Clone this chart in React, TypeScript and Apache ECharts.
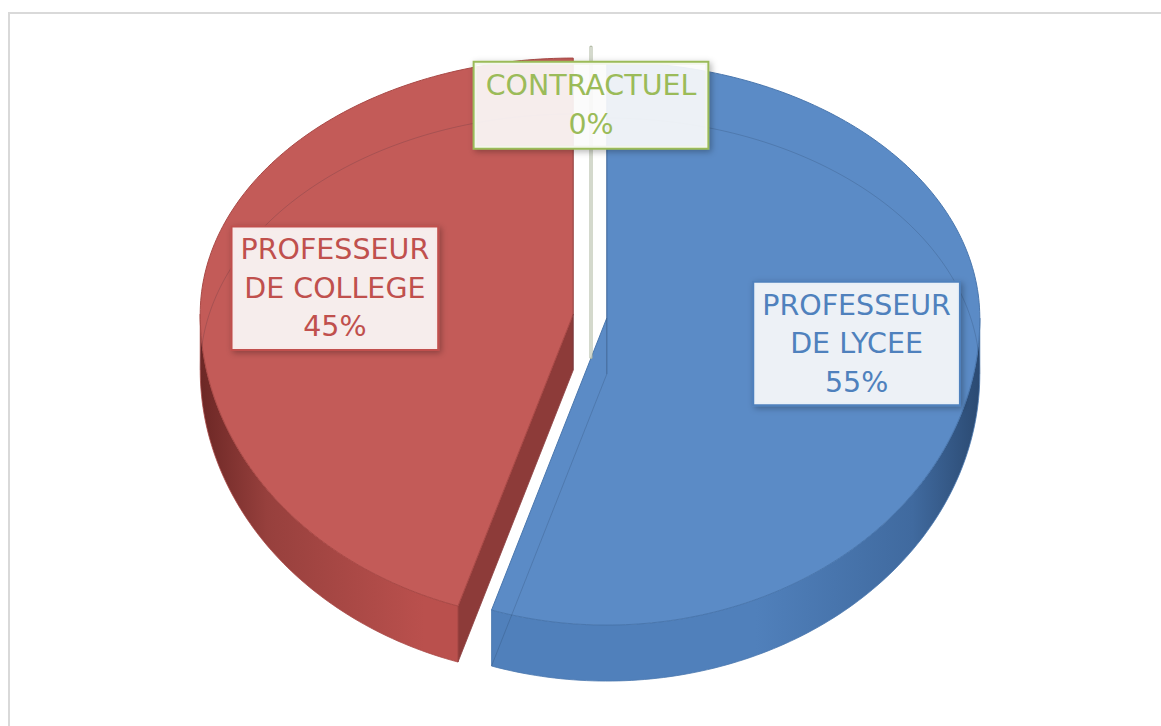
import React, { useEffect, useRef } from "react";
import * as echarts from "echarts";

// ---- data ----
const categories = ["PROFESSEUR DE LYCEE", "PROFESSEUR DE COLLEGE", "CONTRACTUEL"];
const values = [55, 45, 0];

// ---- styles ----
const topFill = ["#5B8BC6", "#C35B58", "#9BBB59"];
const edgeStroke = ["#4A77AE", "#A94946", "#A9B39A"];
const sideDark = ["#2B4A72", "#6C2725", "#6F8A3A"];
const sideMid = ["#406A9F", "#97403D", "#84A24A"];
const sideBase = ["#5080BB", "#BA504D", "#9BBB59"];
const cutFill = ["#3F6698", "#8D3B39", "#7E9A47"];
const labelColor = ["#4F81BD", "#C0504D", "#9BBB59"];
const explode = [16, 18, 20];
const labelRadius = [0.678, 0.647, 0.77];
const labelShift = [
  [0, -7],
  [0, 0],
  [0, 0],
];
const labelPadding = [
  [3, 8],
  [3, 8],
  [4, 11],
];

// ---- geometry of the 3D pie ----
const CX = 591;
const CY = 316;
const RX = 373;
const RY_UP = 256;
const RY_DOWN = 307;
const DEPTH = 56;

const total = values.reduce((a, b) => a + b, 0);
const starts: number[] = [];
{
  let acc = 0;
  values.forEach((v) => {
    starts.push((acc / total) * 360);
    acc += v;
  });
}

function pt(cx: number, cy: number, deg: number, k = 1): number[] {
  const r = (deg * Math.PI) / 180;
  const s = Math.sin(r);
  const c = Math.cos(r);
  return [cx + RX * k * s, cy - (c >= 0 ? RY_UP : RY_DOWN) * k * c];
}

function arc(cx: number, cy: number, a: number, b: number, dy = 0): number[][] {
  const pts: number[][] = [];
  const n = Math.max(1, Math.ceil(b - a));
  for (let i = 0; i <= n; i++) {
    const p = pt(cx, cy, a + ((b - a) * i) / n);
    pts.push([p[0], p[1] + dy]);
  }
  return pts;
}

function wrap(name: string, max = 11): string {
  const words = name.split(" ");
  const lines: string[] = [];
  let cur = "";
  words.forEach((w) => {
    if (!cur) cur = w;
    else if ((cur + " " + w).length <= max) cur += " " + w;
    else {
      lines.push(cur);
      cur = w;
    }
  });
  if (cur) lines.push(cur);
  return lines.join("\n");
}

function renderItem(params: any) {
  const i = params.dataIndex;
  const v = values[i];
  const a = starts[i];
  const b = a + (v / total) * 360;
  const mid = (a + b) / 2;
  const m = (mid * Math.PI) / 180;
  const e = explode[i];
  const cm = Math.cos(m);
  const cx = CX + e * Math.sin(m);
  const cy = CY - (e * cm * (cm >= 0 ? RY_UP : RY_DOWN)) / RX;
  const apex = [cx, cy];
  const down = (p: number[]) => [p[0], p[1] + DEPTH];
  const P1 = pt(cx, cy, a);
  const P2 = pt(cx, cy, b);
  const children: any[] = [];

  if (b - a < 0.05) {
    children.push({
      type: "polygon",
      shape: {
        points: [
          [cx - 1, cy + DEPTH],
          [P1[0] - 1, P1[1]],
          [P1[0] + 1, P1[1]],
          [cx + 1, cy + DEPTH],
        ],
      },
      style: { fill: "rgba(255,255,255,0.7)", stroke: edgeStroke[i], lineWidth: 1 },
    });
  } else {
    // outer front side
    const fa = Math.max(a, 90);
    const fb = Math.min(b, 270);
    if (fb > fa) {
      const top = arc(cx, cy, fa, fb);
      const bot = arc(cx, cy, fa, fb, DEPTH).reverse();
      const grad = new echarts.graphic.LinearGradient(
        cx - RX,
        0,
        cx + RX,
        0,
        [
          { offset: 0, color: sideDark[i] },
          { offset: 0.09, color: sideMid[i] },
          { offset: 0.3, color: sideBase[i] },
          { offset: 0.7, color: sideBase[i] },
          { offset: 0.91, color: sideMid[i] },
          { offset: 1, color: sideDark[i] },
        ],
        true
      );
      children.push({
        type: "polygon",
        shape: { points: top.concat(bot) },
        style: { fill: grad, stroke: edgeStroke[i], lineWidth: 0.8 },
      });
    }
    // cut faces
    if (a > 180 && a < 360) {
      children.push({
        type: "polygon",
        shape: { points: [apex, P1, down(P1), down(apex)] },
        style: { fill: cutFill[i], stroke: edgeStroke[i], lineWidth: 0.8 },
      });
    }
    if (b > 0 && b < 180) {
      children.push({
        type: "polygon",
        shape: { points: [apex, P2, down(P2), down(apex)] },
        style: { fill: cutFill[i], stroke: edgeStroke[i], lineWidth: 0.8 },
      });
    }
    // top face
    children.push({
      type: "polygon",
      shape: { points: [apex].concat(arc(cx, cy, a, b)) },
      style: { fill: topFill[i], stroke: edgeStroke[i], lineWidth: 1 },
    });
    // faint hidden edges seen through the translucent body
    const hidden = { stroke: "rgba(20,30,50,0.16)", lineWidth: 1, fill: null };
    children.push({
      type: "polyline",
      shape: { points: [down(P1), down(apex), down(P2)] },
      style: hidden,
    });
    children.push({
      type: "polyline",
      shape: { points: [apex, down(apex)] },
      style: hidden,
    });
    const ranges = [
      [Math.max(a, 270), Math.min(b, 360)],
      [Math.max(a, 0), Math.min(b, 90)],
    ];
    ranges.forEach(([ra, rb]) => {
      if (rb > ra) {
        children.push({
          type: "polyline",
          shape: { points: arc(cx, cy, ra, rb, DEPTH) },
          style: hidden,
        });
      }
    });
  }

  // label
  const pct = Math.round((v / total) * 100);
  const lp = pt(cx, cy, mid, labelRadius[i]);
  children.push({
    type: "text",
    x: lp[0] + labelShift[i][0],
    y: lp[1] + labelShift[i][1],
    z2: 100,
    style: {
      text: wrap(categories[i]) + "\n" + pct + "%",
      fill: labelColor[i],
      fontSize: 28.5,
      fontFamily: "DejaVu Sans",
      align: "center",
      verticalAlign: "middle",
      lineHeight: 38.5,
      backgroundColor: "rgba(255,255,255,0.88)",
      borderColor: labelColor[i],
      borderWidth: 2,
      padding: labelPadding[i],
      shadowColor: "rgba(0,0,0,0.3)",
      shadowBlur: 6,
      shadowOffsetX: 2,
      shadowOffsetY: 2,
    },
  });

  return { type: "group", children };
}

export default function App() {
  const ref = useRef<HTMLDivElement>(null);
  useEffect(() => {
    if (!ref.current) return;
    const chart = echarts.init(ref.current, undefined, { renderer: "svg" });
    chart.setOption({
      animation: false,
      backgroundColor: "#ffffff",
      graphic: [
        {
          type: "rect",
          silent: true,
          shape: { x: 9, y: 13, width: 1300, height: 900 },
          style: { fill: "none", stroke: "#D9D9D9", lineWidth: 2 },
        },
      ],
      series: [
        {
          type: "custom",
          coordinateSystem: "none",
          renderItem,
          data: values.map((v, i) => ({ name: categories[i], value: v })),
        },
      ],
    });
    return () => chart.dispose();
  }, []);
  return (
    <div
      ref={ref}
      style={{ position: "fixed", left: 0, top: 0, width: 1161, height: 726 }}
    />
  );
}
